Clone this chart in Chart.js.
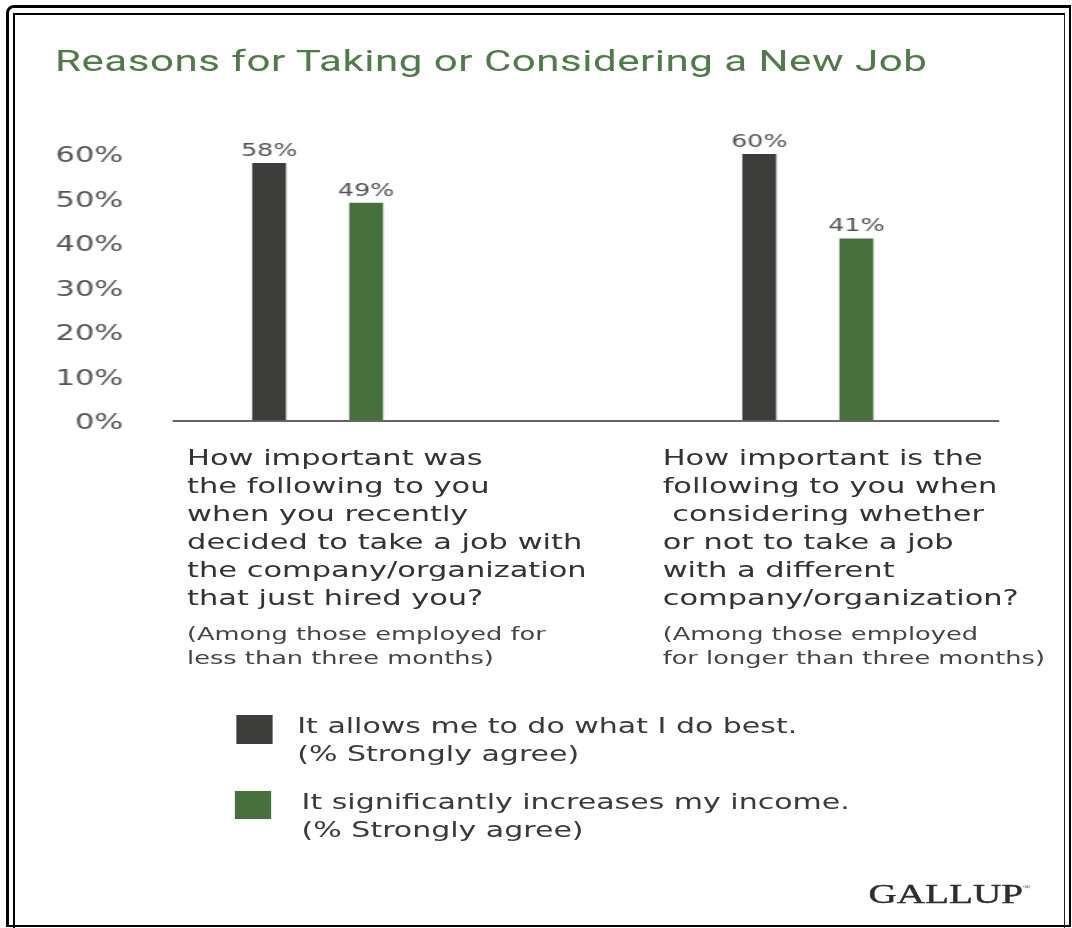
<!DOCTYPE html>
<html>
<head>
<meta charset="utf-8">
<script src="https://cdn.jsdelivr.net/npm/chart.js@4"></script>
<style>
  html, body { margin:0; padding:0; background:#fff; }
  body { width:1072px; height:928px; position:relative; overflow:hidden; }
  .frame-out { position:absolute; left:6px; top:5px; width:1065px; height:922px; box-sizing:border-box;
    border-left:3px solid #000; border-top:3px solid #000; border-right:2px solid #000; border-bottom:2px solid #000;
    border-top-left-radius:8px; }
  .frame-in { position:absolute; left:13px; top:13px; width:1052px; height:920px; box-sizing:border-box;
    border-left:2px solid #000; border-top:2px solid #000; border-right:1px solid #222; }
  /* the source picture is stretched sideways, so the stage is laid out narrow and widened */
  #stage { position:absolute; left:0; top:0; width:739px; height:928px; transform:scaleX(1.45); transform-origin:0 0; }
  #titulo { position:absolute; left:38px; top:47px; font:29px/29px Roboto, sans-serif; letter-spacing:0.35px; color:#4e7b47; white-space:nowrap; }
  #grafico { position:absolute; left:0; top:100px; }
  .pergunta { position:absolute; top:444px; font:21px/28px "DejaVu Sans", sans-serif; color:#333; white-space:pre; }
  .nota { position:absolute; top:622px; font:17.7px/24px "DejaVu Sans", sans-serif; color:#444; white-space:pre; }
  .leg-cor { position:absolute; width:25px; }
  .leg-txt { position:absolute; font:20.7px/28px "DejaVu Sans", sans-serif; color:#3a3a3a; white-space:pre; }
  #gallup { position:absolute; left:599px; top:874px; font:27px/27px "Liberation Serif", serif; color:#2e2e2e; -webkit-text-stroke:0.4px #2e2e2e; }
  #gallup sup { font-size:7px; vertical-align:14px; -webkit-text-stroke:0; }
</style>
</head>
<body>
<div class="frame-out"></div>
<div class="frame-in"></div>
<div id="stage">
  <div id="titulo">Reasons for Taking or Considering a New Job</div>
  <canvas id="grafico" width="739" height="370"></canvas>
  <div id="perguntas"></div>
  <div id="legenda"></div>
  <div id="gallup">GALLUP<sup>®</sup></div>
</div>
<script>
// dados
const categorias = ["Recently hired", "Considering a new job"];
const perguntas = [
  ["How important was", "the following to you", "when you recently", "decided to take a job with", "the company/organization", "that just hired you?"],
  ["How important is the", "following to you when", " considering whether", "or not to take a job", "with a different", "company/organization?"]
];
const notas = [
  ["(Among those employed for", "less than three months)"],
  ["(Among those employed", "for longer than three months)"]
];
const series = ["It allows me to do what I do best.", "It significantly increases my income."];
const subSerie = "(% Strongly agree)";
const fazMelhor = [58, 60];
const renda = [49, 41];
const cores = ["#3d3d3b", "#48703c"];
const ticksY = [0, 10, 20, 30, 40, 50, 60];

// textos das perguntas
const perguntasEl = document.getElementById("perguntas");
const colX = [129, 457];
perguntas.forEach((linhas, i) => {
  const p = document.createElement("div");
  p.className = "pergunta";
  p.style.left = colX[i] + "px";
  p.textContent = linhas.join("\n");
  perguntasEl.appendChild(p);
  const n = document.createElement("div");
  n.className = "nota";
  n.style.left = colX[i] + "px";
  n.textContent = notas[i].join("\n");
  perguntasEl.appendChild(n);
});

// legenda
const legendaEl = document.getElementById("legenda");
const legPos = [
  {qx:163, qy:715, qh:29, tx:205, ty:712},
  {qx:162, qy:791, qh:28, tx:208, ty:788}
];
series.forEach((nome, i) => {
  const q = document.createElement("div");
  q.className = "leg-cor";
  q.style.left = legPos[i].qx + "px";
  q.style.top = legPos[i].qy + "px";
  q.style.height = legPos[i].qh + "px";
  q.style.background = cores[i];
  legendaEl.appendChild(q);
  const t = document.createElement("div");
  t.className = "leg-txt";
  t.style.left = legPos[i].tx + "px";
  t.style.top = legPos[i].ty + "px";
  t.textContent = nome + "\n" + subSerie;
  legendaEl.appendChild(t);
});

// rótulos em cima das barras
const rotulos = {
  id: "rotulos",
  afterDatasetsDraw(chart) {
    const ctx = chart.ctx;
    ctx.save();
    ctx.font = '17.5px "DejaVu Sans"';
    ctx.fillStyle = "#555";
    ctx.textAlign = "center";
    ctx.textBaseline = "alphabetic";
    chart.data.datasets.forEach((ds, di) => {
      chart.getDatasetMeta(di).data.forEach((barra, i) => {
        ctx.fillText(ds.data[i].y + "%", barra.x, barra.y - 7);
      });
    });
    ctx.restore();
  }
};

const valores = [fazMelhor, renda];
new Chart(document.getElementById("grafico"), {
  type: "bar",
  data: {
    datasets: series.map((nome, s) => ({
      label: nome,
      data: categorias.map((c, i) => ({x: i, y: valores[s][i]})),
      backgroundColor: cores[s],
      categoryPercentage: 0.396,
      barPercentage: 0.35
    }))
  },
  options: {
    responsive: false,
    animation: false,
    layout: { padding: { top: 54, right: 50.7, bottom: 49.5, left: 0 } },
    plugins: { legend: { display: false }, tooltip: { enabled: false } },
    scales: {
      x: {
        type: "linear",
        offset: false,
        min: -0.293,
        max: 1.388,
        grid: { display: false, drawTicks: false },
        ticks: { display: false },
        border: { display: true, color: "#666", width: 2 },
        afterBuildTicks: s => { s.ticks = categorias.map((c, i) => ({ value: i })); },
        afterFit: s => { s.height = 0; }
      },
      y: {
        min: ticksY[0],
        max: ticksY[ticksY.length - 1],
        afterBuildTicks: s => { s.ticks = ticksY.map(v => ({ value: v })); },
        ticks: {
          callback: v => v + "%",
          color: "#555",
          font: { family: "DejaVu Sans", size: 21 },
          padding: 35,
          labelOffset: 3
        },
        grid: { display: false, drawTicks: false },
        border: { display: false },
        afterFit: s => { s.width = 120; }
      }
    }
  },
  plugins: [rotulos]
});
</script>
</body>
</html>
